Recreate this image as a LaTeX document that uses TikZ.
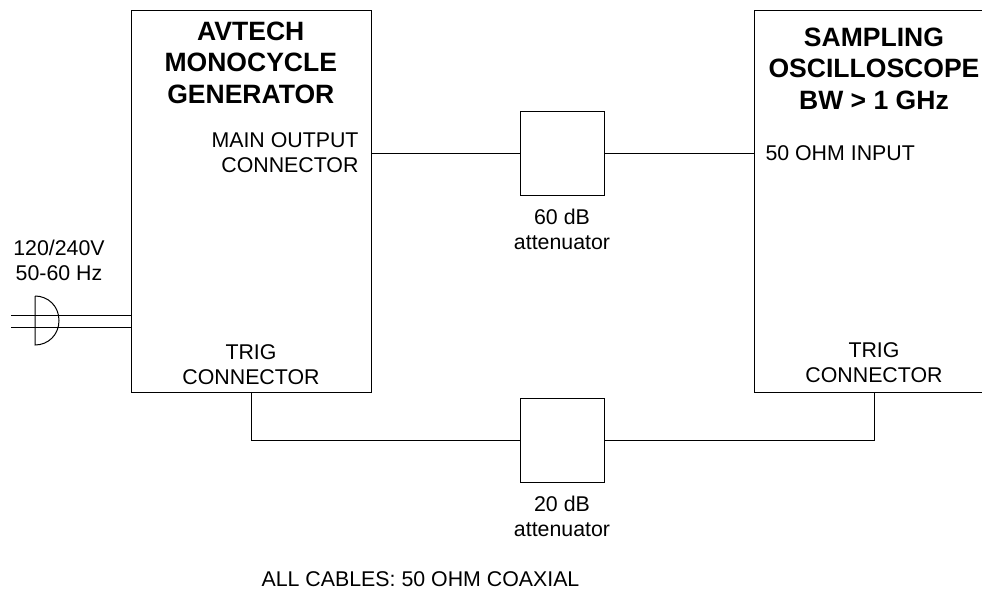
\documentclass[tikz,border=0pt]{standalone}
\usepackage{fontspec}
\setmainfont{Liberation Sans}
\begin{document}
\begin{tikzpicture}
      [x=.75pt,y=-.75pt,line width=.75pt,
       box/.style={draw,rectangle,inner sep=0pt},
       txt/.style={align=center,font=\fontsize{16}{18.6}\selectfont,inner sep=0pt},
       head/.style={align=center,font=\fontsize{19.9}{23.5}\selectfont\bfseries,inner sep=0pt}]
      \useasboundingbox (0,0) rectangle (982,590);

      \node [box,minimum width=180pt,minimum height=286.5pt] (gen) at (251,201) {};
      \node [box,minimum width=63pt,minimum height=63pt] (att60) at (562.3,153) {};
      \node [box,minimum width=63pt,minimum height=63pt] (att20) at (562.3,440) {};

      \coordinate (scopetr) at (982,10);
      \coordinate (scopetl) at (754.5,10);
      \coordinate (scopebl) at (754.5,392);
      \coordinate (scopebr) at (982,392);
      \coordinate (scopein) at (754.5,153);
      \coordinate (scopetrig) at (874.5,392);
      \coordinate (gentrig) at (251,392);
      \coordinate (genout) at (371,153);
      \coordinate (mainsa) at (11,315);
      \coordinate (mainsb) at (11,327);
      \coordinate (plugtop) at (35,296);
      \coordinate (plugbot) at (35,345);

      \node [head] (genname) at (250.8,62.8) {AVTECH\\MONOCYCLE\\GENERATOR};
      \node [head] (scopename) at (874,68.7) {SAMPLING\\OSCILLOSCOPE\\BW > 1 GHz};
      \node [txt,align=right,anchor=east] (outlabel) at (359,152.5) {MAIN OUTPUT\\CONNECTOR};
      \node [txt,anchor=west] (inlabel) at (765,152.8) {50 OHM INPUT};
      \node [txt] (gentriglabel) at (251,364.5) {TRIG\\CONNECTOR};
      \node [txt] (scopetriglabel) at (874,363) {TRIG\\CONNECTOR};
      \node [txt] (att60label) at (562,229.5) {60 dB\\attenuator};
      \node [txt] (att20label) at (562,516.5) {20 dB\\attenuator};
      \node [txt] (mainslabel) at (59,260.5) {120/240V\\50-60 Hz};
      \node [txt] (cables) at (420.5,579.5) {ALL CABLES: 50 OHM COAXIAL};

      \draw (scopetr) -- (scopetl) -- (scopebl) -- (scopebr);
      \draw (genout) -- (att60);
      \draw (att60) -- (scopein);
      \draw (gentrig) |- (att20);
      \draw (att20) -| (scopetrig);
      \draw (mainsa) -- (mainsa -| gen.west);
      \draw (mainsb) -- (mainsb -| gen.west);
      \draw (plugtop) -- (plugbot) .. controls (48,345) and (59,335) .. (59,320.5) .. controls (59,306) and (48,296) .. (plugtop);
    \end{tikzpicture}
\end{document}
